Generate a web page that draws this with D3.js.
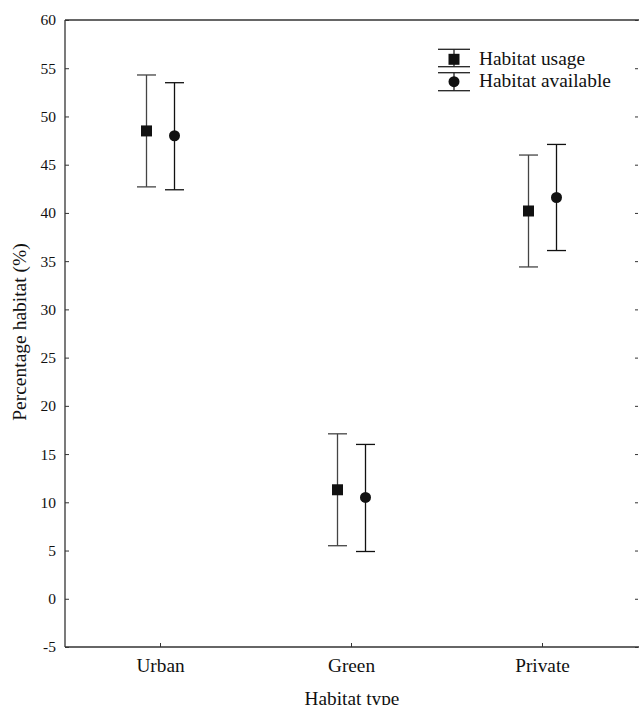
<!DOCTYPE html>
<html><head><meta charset="utf-8">
<script src="https://cdn.jsdelivr.net/npm/d3@7"></script>
<style>body{margin:0;background:#fff}svg{display:block}text{font-family:"Liberation Serif","Times New Roman",serif;fill:#111}</style>
</head><body><svg id="c" width="639" height="705"></svg>
<script>
const categories = ["Urban", "Green", "Private"];
const seriesNames = ["Habitat usage", "Habitat available"];
const usageMean = [48.5, 11.3, 40.2];
const usageLow = [42.7, 5.5, 34.4];
const usageHigh = [54.3, 17.1, 46.0];
const availMean = [48.0, 10.5, 41.6];
const availLow = [42.4, 4.9, 36.1];
const availHigh = [53.5, 16.0, 47.1];
const yTicks = [-5, 0, 5, 10, 15, 20, 25, 30, 35, 40, 45, 50, 55, 60];

const svg = d3.select("#c");
const L = 65, R = 638, T = 20, B = 647;
const x = d3.scaleBand().domain(categories).range([L, R]);
const y = d3.scaleLinear().domain([-5, 60]).range([B, T]);
const off = 14;
const col = "#111";

// axes lines
svg.append("line").attr("x1", L).attr("x2", L).attr("y1", T).attr("y2", B).attr("stroke", "#333").attr("stroke-width", 1.3);
svg.append("line").attr("x1", L).attr("x2", R + 1).attr("y1", B).attr("y2", B).attr("stroke", "#333").attr("stroke-width", 1.3);
svg.append("line").attr("x1", L).attr("x2", R + 1).attr("y1", T).attr("y2", T).attr("stroke", "#333").attr("stroke-width", 1.3);

// left axis
const la = svg.append("g").attr("transform", `translate(${L},0)`)
  .call(d3.axisLeft(y).tickValues(yTicks).tickSize(-4).tickPadding(9).tickFormat(d => String(d)));
la.select(".domain").remove();
la.selectAll("line").attr("stroke", "#333");
la.selectAll("text").attr("font-size", 15.5).attr("font-family", "Liberation Serif").attr("fill", "#111");

// right ticks
const ra = svg.append("g").attr("transform", `translate(${R},0)`)
  .call(d3.axisRight(y).tickValues(yTicks).tickSize(-3).tickFormat(""));
ra.select(".domain").remove();
ra.selectAll("line").attr("stroke", "#333");

// bottom axis
const ba = svg.append("g").attr("transform", `translate(0,${B})`)
  .call(d3.axisBottom(x).tickSize(-4).tickPadding(11));
ba.select(".domain").remove();
ba.selectAll("line").attr("stroke", "#333");
ba.selectAll("text").attr("font-size", 19.3).attr("font-family", "Liberation Serif").attr("fill", "#111");

// axis titles
svg.append("text").attr("transform", `translate(26,332) rotate(-90)`)
  .attr("text-anchor", "middle").attr("font-size", 19.5).text("Percentage habitat (%)");
svg.append("text").attr("x", 352).attr("y", 705).attr("text-anchor", "middle")
  .attr("font-size", 19.3).text("Habitat type");

const cap = 9.5;
function errbar(g, cx, lo, hi, stroke) {
  g.append("line").attr("x1", cx).attr("x2", cx).attr("y1", y(lo)).attr("y2", y(hi)).attr("stroke", stroke).attr("stroke-width", 1.3);
  [lo, hi].forEach(v => g.append("line").attr("x1", cx - cap).attr("x2", cx + cap).attr("y1", y(v)).attr("y2", y(v)).attr("stroke", stroke).attr("stroke-width", 1.3));
}
const g = svg.append("g");
categories.forEach((c, i) => {
  const cx = x(c) + x.bandwidth() / 2;
  errbar(g, cx - off, usageLow[i], usageHigh[i], "#444");
  g.append("rect").attr("x", cx - off - 5.5).attr("y", y(usageMean[i]) - 5.5).attr("width", 11).attr("height", 11).attr("fill", col);
  errbar(g, cx + off, availLow[i], availHigh[i], "#111");
  g.append("circle").attr("cx", cx + off).attr("cy", y(availMean[i])).attr("r", 5.5).attr("fill", col);
});

// legend
const lg = svg.append("g");
const lx = 454;
[[49.3, 66.7, 59.3, 65], [72.7, 90.7, 81.7, 87.3]].forEach((r, i) => {
  lg.append("line").attr("x1", lx).attr("x2", lx).attr("y1", r[0]).attr("y2", r[1]).attr("stroke", "#222").attr("stroke-width", 1.3);
  [r[0], r[1]].forEach(v => lg.append("line").attr("x1", lx - 16).attr("x2", lx + 16).attr("y1", v).attr("y2", v).attr("stroke", "#222").attr("stroke-width", 1.3));
  if (i === 0) lg.append("rect").attr("x", lx - 5.5).attr("y", r[2] - 5.5).attr("width", 11).attr("height", 11).attr("fill", col);
  else lg.append("circle").attr("cx", lx).attr("cy", r[2]).attr("r", 5.5).attr("fill", col);
  lg.append("text").attr("x", 479).attr("y", r[3]).attr("font-size", 19.4).text(seriesNames[i]);
});
</script></body></html>
